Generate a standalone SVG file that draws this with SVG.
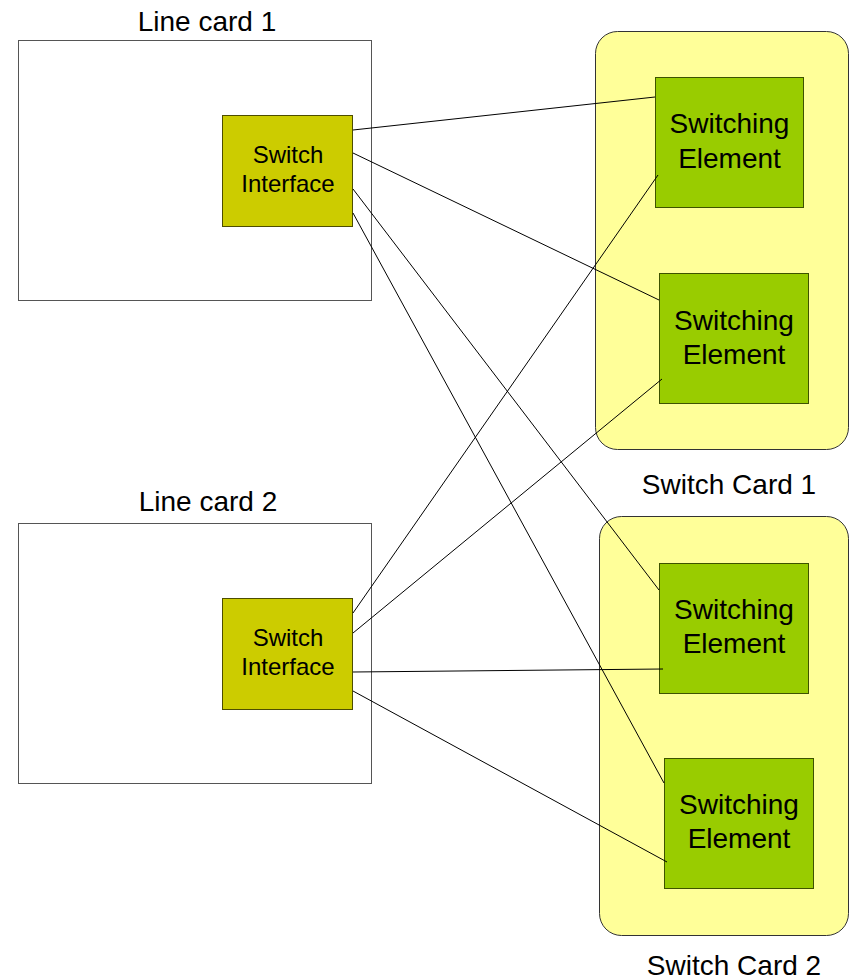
<svg xmlns="http://www.w3.org/2000/svg" width="849" height="980" viewBox="0 0 849 980">
  <style>
    text { font-family: "Liberation Sans", Arial, sans-serif; fill: #000; text-anchor: middle; }
    .title { font-size: 28px; }
    .se-label { font-size: 28px; }
    .si-label { font-size: 24px; }
    .linecard { fill: #ffffff; stroke: #555555; stroke-width: 1; }
    .switchcard { fill: #ffff99; stroke: #333333; stroke-width: 1; }
    .si { fill: #cccc00; stroke: #4d4d00; stroke-width: 1; }
    .se { fill: #99cc00; stroke: #3d5200; stroke-width: 1; }
    .link { stroke: #000000; stroke-width: 1; fill: none; }
  </style>
  <rect width="849" height="980" fill="#ffffff"/>

  <!-- Line card 1 with its switch interface -->
  <g id="linecard1">
    <text class="title" x="207" y="31">Line card 1</text>
    <rect class="linecard" x="18.5" y="40.5" width="353" height="260"/>
  </g>
  <g id="si1">
    <rect class="si" x="222.5" y="115.5" width="130" height="111"/>
    <text class="si-label" x="288" y="163">Switch</text>
    <text class="si-label" x="288" y="192">Interface</text>
  </g>

  <!-- Line card 2 with its switch interface -->
  <g id="linecard2">
    <text class="title" x="208" y="511">Line card 2</text>
    <rect class="linecard" x="18.5" y="523.5" width="353" height="260"/>
  </g>
  <g id="si2">
    <rect class="si" x="222.5" y="598.5" width="130" height="111"/>
    <text class="si-label" x="288" y="646">Switch</text>
    <text class="si-label" x="288" y="675">Interface</text>
  </g>

  <!-- Switch card 1 -->
  <g id="switchcard1">
    <rect class="switchcard" x="595.5" y="31.5" width="253" height="418" rx="22" ry="22"/>
    <text class="title" x="729" y="494">Switch Card 1</text>
  </g>
  <g id="se1">
    <rect class="se" x="655.5" y="77.5" width="148" height="130"/>
    <text class="se-label" x="729.5" y="133">Switching</text>
    <text class="se-label" x="729.5" y="168">Element</text>
  </g>
  <g id="se2">
    <rect class="se" x="659.5" y="273.5" width="149" height="130"/>
    <text class="se-label" x="734" y="330">Switching</text>
    <text class="se-label" x="734" y="364">Element</text>
  </g>

  <!-- Switch card 2 -->
  <g id="switchcard2">
    <rect class="switchcard" x="599.5" y="516.5" width="249" height="419" rx="22" ry="22"/>
    <text class="title" x="734" y="975">Switch Card 2</text>
  </g>
  <g id="se3">
    <rect class="se" x="659.5" y="563.5" width="149" height="130"/>
    <text class="se-label" x="734" y="619">Switching</text>
    <text class="se-label" x="734" y="653">Element</text>
  </g>
  <g id="se4">
    <rect class="se" x="664.5" y="758.5" width="149" height="130"/>
    <text class="se-label" x="739" y="814">Switching</text>
    <text class="se-label" x="739" y="848">Element</text>
  </g>

  <!-- Links from each switch interface to every switching element -->
  <g id="connectors">
    <line class="link" x1="353" y1="130" x2="655" y2="97"/>
    <line class="link" x1="353" y1="153" x2="659" y2="300"/>
    <line class="link" x1="353" y1="189" x2="659" y2="590"/>
    <line class="link" x1="353" y1="213" x2="664" y2="783"/>
    <line class="link" x1="353" y1="613" x2="658" y2="175"/>
    <line class="link" x1="353" y1="633" x2="662" y2="379"/>
    <line class="link" x1="353" y1="672" x2="663" y2="669"/>
    <line class="link" x1="353" y1="691" x2="667" y2="862"/>
  </g>
</svg>
